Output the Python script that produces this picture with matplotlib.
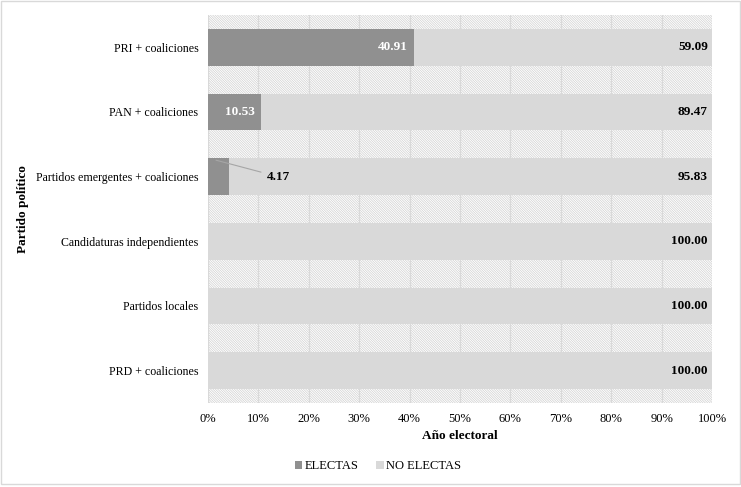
import numpy as np
import matplotlib.pyplot as plt
from matplotlib.patches import Rectangle

# data
partidos = ["PRI + coaliciones", "PAN + coaliciones", "Partidos emergentes + coaliciones",
            "Candidaturas independientes", "Partidos locales", "PRD + coaliciones"]
electas = [40.91, 10.53, 4.17, 0.0, 0.0, 0.0]
no_electas = [59.09, 89.47, 95.83, 100.00, 100.00, 100.00]
ticks = np.arange(0, 101, 10)

plt.rcParams['font.family'] = ['Liberation Serif', 'DejaVu Serif']
plt.rcParams['hatch.linewidth'] = 0.5
plt.rcParams['hatch.color'] = '#d0d0d0'

fig = plt.figure(figsize=(7.41, 4.87), dpi=100)
ax = fig.add_axes([0.2807, 0.1725, 0.6802, 0.7967])

# hatched plot background
bg = Rectangle((0, 0), 1, 1, transform=ax.transAxes, facecolor='white',
               hatch='\\' * 14, edgecolor='#d0d0d0', linewidth=0, zorder=0)
ax.add_patch(bg)

y = np.arange(len(partidos))
h = 0.57
b1 = ax.barh(y, electas, height=h, color='#909090', label='ELECTAS', zorder=3)
b2 = ax.barh(y, no_electas, left=electas, height=h, color='#d9d9d9', label='NO ELECTAS', zorder=3)

for i, v in enumerate(electas):
    if v >= 10:
        ax.text(v - 1.2, i, f"{v:.2f}", ha='right', va='center', color='white',
                fontweight='bold', fontsize=9.5, zorder=5)
    elif v > 0:
        ax.annotate(f"{v:.2f}", xy=(v / 2 - 0.5, i - h / 2 + 0.03), xytext=(11.6, i),
                    ha='left', va='center', fontweight='bold', fontsize=9.5,
                    arrowprops=dict(arrowstyle='-', color='#a6a6a6', lw=0.8,
                                    shrinkA=2, shrinkB=0), zorder=5)
for i, v in enumerate(no_electas):
    ax.text(99.2, i, f"{v:.2f}", ha='right', va='center', color='black',
            fontweight='bold', fontsize=9.5, zorder=5)

ax.set_xlim(0, 100)
ax.set_ylim(len(partidos) - 0.5, -0.5)
ax.set_yticks(y)
ax.set_yticklabels(partidos, fontsize=8.6)
ax.set_xticks(ticks)
ax.set_xticklabels([f"{t}%" for t in ticks], fontsize=9)
ax.tick_params(length=0, pad=7)
ax.xaxis.grid(True, color='#d9d9d9', linewidth=0.9, zorder=1)
ax.set_axisbelow(True)
for s in ax.spines.values():
    s.set_visible(False)

ax.set_xlabel("Año electoral", fontweight='bold', fontsize=9.5, labelpad=4)
ax.set_ylabel("Partido político", fontweight='bold', fontsize=9.5)
ax.yaxis.set_label_coords(-0.356, 0.5)

leg = fig.legend(handles=[b1, b2], loc='center', bbox_to_anchor=(0.51, 0.043), ncol=2,
                 frameon=False, fontsize=9, handlelength=0.6, handleheight=0.6,
                 handletextpad=0.2, columnspacing=1.4)

# outer chart border
fig.patches.append(Rectangle((0.001, 0.006), 0.997, 0.992, transform=fig.transFigure,
                             fill=False, edgecolor='#d9d9d9', linewidth=1))

plt.savefig("out.png", dpi=100)
